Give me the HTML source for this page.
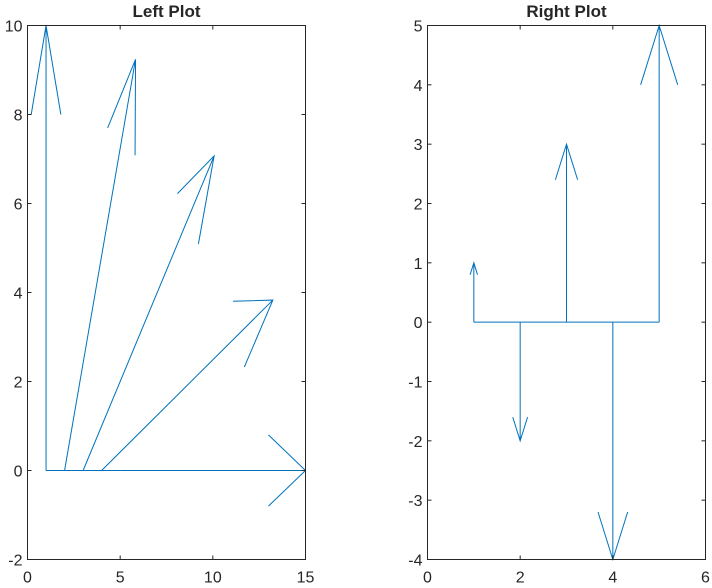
<!DOCTYPE html>
<html><head><meta charset="utf-8"><style>
html,body{margin:0;padding:0;background:#fff;width:712px;height:588px;overflow:hidden}
svg text{font-family:"Liberation Sans",sans-serif;fill:#262626}
</style></head><body>
<svg id="c" width="712" height="588" xmlns="http://www.w3.org/2000/svg"></svg>
<script>
// Left plot data
const leftBases = [1, 2, 3, 4, 5];
const leftU = [0, 3.83, 7.07, 9.24, 10];
const leftV = [10, 9.24, 7.07, 3.83, 0];
const leftXTicks = [0, 5, 10, 15];
const leftYTicks = [-2, 0, 2, 4, 6, 8, 10];
// Right plot data
const rightBases = [1, 2, 3, 4, 5];
const rightU = [0, 0, 0, 0, 0];
const rightV = [1, -2, 3, -4, 5];
const rightXTicks = [0, 2, 4, 6];
const rightYTicks = [-4, -3, -2, -1, 0, 1, 2, 3, 4, 5];

const NS = "http://www.w3.org/2000/svg";
const svg = document.getElementById('c');
function mk(tag, attrs, parent) {
  const e = document.createElementNS(NS, tag);
  for (const k in attrs) e.setAttribute(k, attrs[k]);
  (parent || svg).appendChild(e);
  return e;
}
function drawPlot(cfg) {
  const {name, title, x0, x1, y0, y1, xmin, xmax, ymin, ymax, xt, yt, bases, u, v} = cfg;
  const g = mk('g', {});
  
  
  const sx = d => x0 + (d - xmin) / (xmax - xmin) * (x1 - x0);
  const sy = d => y1 - (d - ymin) / (ymax - ymin) * (y1 - y0);
  const col = '#0072BD';
  const bl = mk('line', {x1: sx(bases[0]), y1: sy(0), x2: sx(bases[bases.length - 1]), y2: sy(0), stroke: col, 'stroke-width': 1}, g);
  
  
  for (let i = 0; i < bases.length; i++) {
    const bx = bases[i], tx = bx + u[i], ty = v[i];
    const bkx = tx - 0.2 * u[i], bky = ty - 0.2 * v[i];
    const px = -0.08 * v[i], py = 0.08 * u[i];
    const p = mk('path', {
      d: `M${sx(bx)},${sy(0)}L${sx(tx)},${sy(ty)}M${sx(bkx + px)},${sy(bky + py)}L${sx(tx)},${sy(ty)}L${sx(bkx - px)},${sy(bky - py)}`,
      fill: 'none', stroke: col, 'stroke-width': 1
    }, g);
    
    
  }
  const ax = mk('rect', {x: x0, y: y0, width: x1 - x0, height: y1 - y0, fill: 'none', stroke: '#262626', 'stroke-width': 1}, g);
  
  
  xt.forEach(t => {
    const x = sx(t);
    mk('line', {x1: x, y1: y1, x2: x, y2: y1 - 4, stroke: '#262626'}, g);
    mk('line', {x1: x, y1: y0, x2: x, y2: y0 + 4, stroke: '#262626'}, g);
    const tl = mk('text', {x: x, y: y1 + 23, 'text-anchor': 'middle', 'font-size': 16}, g);
    tl.textContent = t;
    
    
  });
  yt.forEach(t => {
    const y = sy(t);
    mk('line', {x1: x0, y1: y, x2: x0 + 4, y2: y, stroke: '#262626'}, g);
    mk('line', {x1: x1, y1: y, x2: x1 - 4, y2: y, stroke: '#262626'}, g);
    const tl = mk('text', {x: x0 - 5, y: y + 6, 'text-anchor': 'end', 'font-size': 16}, g);
    tl.textContent = t;
    
    
  });
  const tt = mk('text', {x: (x0 + x1) / 2, y: 17, 'text-anchor': 'middle', 'font-size': 17, 'font-weight': 'bold', fill: '#000'}, g);
  tt.textContent = title;
  
  
}
drawPlot({name: 'left-plot', title: 'Left Plot', x0: 27.5, x1: 305.5, y0: 25.5, y1: 559.5, xmin: 0, xmax: 15, ymin: -2, ymax: 10,
  xt: leftXTicks, yt: leftYTicks, bases: leftBases, u: leftU, v: leftV});
drawPlot({name: 'right-plot', title: 'Right Plot', x0: 427.5, x1: 705.5, y0: 25.5, y1: 559.5, xmin: 0, xmax: 6, ymin: -4, ymax: 5,
  xt: rightXTicks, yt: rightYTicks, bases: rightBases, u: rightU, v: rightV});
</script>
</body></html>
